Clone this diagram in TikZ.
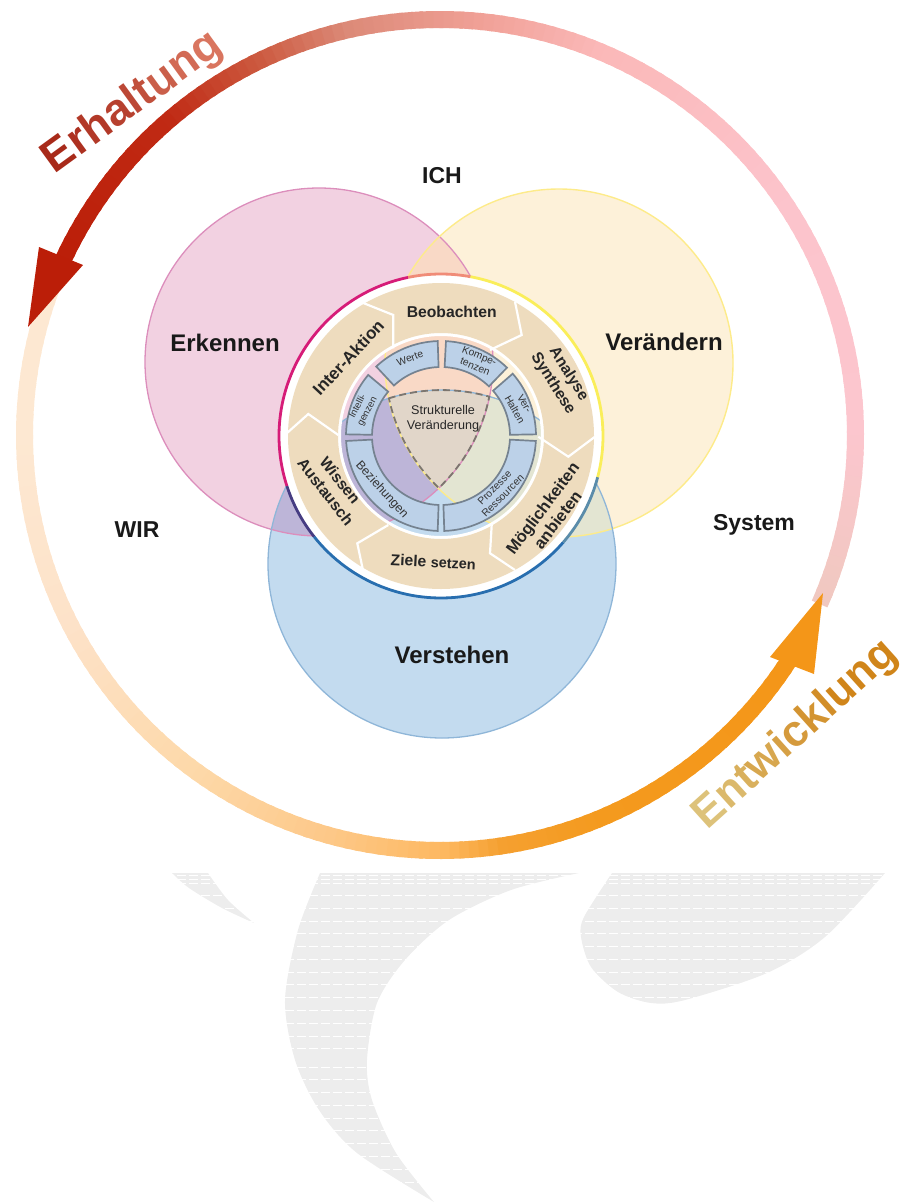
\documentclass[tikz,border=0pt]{standalone}
\usepackage{fontspec}
\setmainfont{Liberation Sans}
\definecolor{pinkfill}{HTML}{F2D1E1}
\definecolor{yellowfill}{HTML}{FDF1D9}
\definecolor{bluefill}{HTML}{C3DBEF}
\definecolor{pinkyellow}{HTML}{F9D9C6}
\definecolor{pinkblue}{HTML}{BDB5D8}
\definecolor{yellowblue}{HTML}{E3E5D2}
\definecolor{allthree}{HTML}{E1D6C9}
\definecolor{pinkedge}{HTML}{DC8EBC}
\definecolor{yellowedge}{HTML}{FDEB8A}
\definecolor{blueedge}{HTML}{8FB6D8}
\definecolor{sand}{HTML}{EEDCBE}
\definecolor{sectorblue}{HTML}{BCD1E8}
\definecolor{erhdark}{HTML}{A82A1A}
\definecolor{erhlight}{HTML}{D9755F}
\definecolor{entlight}{HTML}{DDC27A}
\definecolor{entdark}{HTML}{D0851A}
\definecolor{redhead}{HTML}{BB1E08}
\definecolor{orangehead}{HTML}{F49618}
\definecolor{erA}{HTML}{F0C8C0}
\definecolor{erB}{HTML}{FCC6CE}
\definecolor{erC}{HTML}{FCC4CC}
\definecolor{erD}{HTML}{FBB8B8}
\definecolor{erE}{HTML}{F0A096}
\definecolor{erF}{HTML}{DC8A78}
\definecolor{erG}{HTML}{CC5A40}
\definecolor{erH}{HTML}{C02A14}
\definecolor{enA}{HTML}{FDE8D2}
\definecolor{enB}{HTML}{FDE2C8}
\definecolor{enC}{HTML}{FDD8A8}
\definecolor{enD}{HTML}{FDC888}
\definecolor{enE}{HTML}{FDB860}
\definecolor{enF}{HTML}{F5A030}
\definecolor{enG}{HTML}{F49A1E}

\newcommand\ringpart[4]{%
  \pgfmathtruncatemacro\steps{abs(#2-#1)/1.5+1}
  \foreach \i in {1,...,\steps}{
    \pgfmathsetmacro\pct{100*(\i-1)/\steps}
    \pgfmathsetmacro\aA{#1+(#2-#1)*(\i-1)/\steps}
    \pgfmathsetmacro\aB{#1+(#2-#1)*(\i+.4)/\steps}
    \draw[ringline, color=#4!\pct!#3] (-\aA:415.5) arc (-\aA:-\aB:415.5);
  }}
\newcommand\sectorpart[2]{\draw[sectorbox] (-#1:95) arc (-#1:-#2:95) -- (-#2:69) arc (-#2:-#1:69) -- cycle;}

\begin{document}
\begin{tikzpicture}[x=1pt, y=-1pt]
  \tikzstyle{ringline} = [line width=17pt]
  \tikzstyle{sectorbox} = [draw=black!38!sectorblue, fill=sectorblue, line width=1.7pt]
  \tikzstyle{chevron} = [draw=white, line width=2.2pt]
  \tikzstyle{rimline} = [line width=2.8pt]
  \tikzstyle{bigtext} = [font=\bfseries\fontsize{24}{26}\selectfont, text=black!90]
  \tikzstyle{sidetext} = [font=\bfseries\fontsize{23}{26}\selectfont, text=black!90]
  \tikzstyle{ringtext} = [font=\bfseries\fontsize{15.7}{18.5}\selectfont, text=black!85, align=center]
  \tikzstyle{sectortext} = [font=\fontsize{10.3}{11.5}\selectfont, text=black!80, align=center]

\useasboundingbox (0,0) rectangle (905,1202);

% background mark
\fill[black!7] plot[smooth] coordinates {(172,873) (189,888) (222,908) (254,923)} -- plot[smooth] coordinates {(254,923) (228,900) (208,873)} -- cycle;
\fill[black!7] plot[smooth] coordinates {(320,873) (298,930) (285,1000) (295,1060) (319,1110) (357,1153) (434,1202)}
   -- plot[smooth] coordinates {(434,1202) (396,1153) (372,1100) (367,1060) (377,1003) (405,960) (449,920) (511,890) (579,873)} -- cycle;
\fill[black!7] plot[smooth] coordinates {(612,873) (584,917) (581,937) (591,967) (618,992) (651,1003) (685,1000) (767,973) (825,937) (885,873)} -- cycle;
\foreach \yy in {875,879,883,895,908,921,933,946,959,972,984,997,1010,1023,1036,1048,1067,1079,1092,1105,1118,1130,1143,1156,1169,1182}
  \draw[white, line width=.5pt, dash pattern=on 9pt off 3pt] (165,\yy) -- (890,\yy);

% outer ring
\begin{scope}[shift={(440,435)}]
\ringpart{158}{180}{enA}{enA}
\ringpart{180}{207}{enA}{enB}
\ringpart{207}{234}{enB}{enC}
\ringpart{234}{254}{enC}{enD}
\ringpart{254}{270}{enD}{enE}
\ringpart{270}{278}{enE}{enF}
\ringpart{278}{292}{enF}{enG}
\ringpart{292}{327}{enG}{orangehead}
\ringpart{-24}{0}{erA}{erB}
\ringpart{0}{33}{erB}{erC}
\ringpart{33}{67}{erC}{erD}
\ringpart{67}{84}{erD}{erE}
\ringpart{84}{102}{erE}{erF}
\ringpart{102}{115}{erF}{erG}
\ringpart{115}{130}{erG}{erH}
\ringpart{130}{155}{erH}{redhead}
\end{scope}
\coordinate (redtip) at (28,327);
\coordinate (redleft) at (39,247);
\coordinate (redright) at (83,265);
\coordinate (orangetip) at (823,593);
\coordinate (orangeleft) at (770,657);
\coordinate (orangeright) at (814,674);
\fill[redhead] (redtip) -- (redleft) -- (redright) -- cycle;
\fill[orangehead] (orangetip) -- (orangeleft) -- (orangeright) -- cycle;

\node[rotate=36, font=\bfseries\fontsize{45}{46}\selectfont] (erhaltung) at (133,103) {\textcolor{erhdark}{E}\textcolor{erhdark!90!erhlight}{r}\textcolor{erhdark!80!erhlight}{h}\textcolor{erhdark!70!erhlight}{a}\textcolor{erhdark!60!erhlight}{l}\textcolor{erhdark!50!erhlight}{t}\textcolor{erhdark!30!erhlight}{u}\textcolor{erhdark!15!erhlight}{n}\textcolor{erhlight}{g}};
\node[rotate=42, font=\bfseries\fontsize{44}{46}\selectfont] (entwicklung) at (796,735) {\textcolor{entlight}{E}\textcolor{entdark!15!entlight}{n}\textcolor{entdark!30!entlight}{t}\textcolor{entdark!45!entlight}{w}\textcolor{entdark!55!entlight}{i}\textcolor{entdark!65!entlight}{c}\textcolor{entdark!75!entlight}{k}\textcolor{entdark!85!entlight}{l}\textcolor{entdark}{u}\textcolor{entdark}{n}\textcolor{entdark}{g}};

% three circles
\coordinate (pinkc) at (319,362);
\coordinate (yellowc) at (559,363);
\coordinate (bluec) at (442,564);
\fill[pinkfill] (pinkc) circle (174);
\fill[yellowfill] (yellowc) circle (174);
\fill[bluefill] (bluec) circle (174);
\begin{scope}
  \clip (yellowc) circle (174);
  \fill[yellowblue] (bluec) circle (174);
\end{scope}
\begin{scope}
  \clip (pinkc) circle (174);
  \fill[pinkyellow] (yellowc) circle (174);
  \fill[pinkblue] (bluec) circle (174);
  \clip (yellowc) circle (174);
  \fill[allthree] (bluec) circle (174);
\end{scope}
\draw[pinkedge, line width=1.3pt] (pinkc) circle (174);
\draw[yellowedge, line width=1.4pt] (yellowc) circle (174);
\draw[blueedge, line width=1.3pt] (bluec) circle (174);

% middle disc
\begin{scope}[shift={(441,436)}]
\fill[white, even odd rule] (0,0) circle (161) (0,0) circle (100);
\fill[sand, even odd rule] (0,0) circle (153) (0,0) circle (103);
\foreach \aS/\aE/\rimcol in {101.7/198/{rgb,255:red,214;green,28;blue,120}, 198/218.5/{rgb,255:red,70;green,60;blue,130}, 218.5/319/{rgb,255:red,40;green,110;blue,175}, 319/345.3/{rgb,255:red,90;green,140;blue,170}, -14.7/79.6/{rgb,255:red,250;green,238;blue,90}, 79.6/101.7/{rgb,255:red,240;green,140;blue,120}}
  \draw[rimline, color=\rimcol] (-\aS:162) arc (-\aS:-\aE:162);
\sectorpart{92}{133}
\sectorpart{46}{87}
\sectorpart{1}{41}
\sectorpart{140}{179}
\sectorpart{183}{268}
\sectorpart{272}{357}
\end{scope}

\draw[chevron] (360,301.7) -- (393.3,315) -- (393.3,348.3);
\draw[chevron] (515,301.7) -- (521.7,335) -- (490,350);
\draw[chevron] (595,436.7) -- (568.3,456.7) -- (538.3,436.7);
\draw[chevron] (515,570) -- (490,553.3) -- (491.7,525);
\draw[chevron] (363.3,571.7) -- (357.3,543.3) -- (388.3,525);
\draw[chevron] (286.7,433.3) -- (308.3,414) -- (338.3,435);

\draw[draw=black!45!allthree, line width=1.8pt, dash pattern=on 7pt off 4pt] (388.7,398.4) arc (-107.8:-74.2:174) arc (11.5:46.4:174) arc (-226.2:-191.7:174);

\node[sidetext] (ich) at (442,176) {ICH};
\node[sidetext] (wir) at (137,530) {WIR};
\node[sidetext] (system) at (754,525) {System};
\node[bigtext] (erkennen) at (225,343) {Erkennen};
\node[bigtext] (veraendern) at (664,342) {Verändern};
\node[bigtext] (verstehen) at (452,655) {Verstehen};

\node[ringtext] (beobachten) at (451.7,311.7) {Beobachten};
\node[ringtext, rotate=47, font=\bfseries\fontsize{17}{18}\selectfont] (interaktion) at (348.3,357.3) {Inter-Aktion};
\node[ringtext, rotate=-58] (analyse) at (560.7,378.7) {Analyse\\Synthese};
\node[ringtext, rotate=-52] (wissen) at (333,486) {Wissen\\Austausch};
\node[ringtext, rotate=53, font=\bfseries\fontsize{16.5}{19}\selectfont] (moeglich) at (550,514) {Möglichkeiten\\anbieten};
\node[ringtext, rotate=-3] (ziele) at (433.3,561.7) {Ziele {\fontsize{14.5}{17}\selectfont setzen}};

\node[sectortext] (werte) at (410,358.3) [rotate=20] {Werte};
\node[sectortext] (kompetenzen) at (477.3,361) [rotate=-22] {Kompe-\\tenzen};
\node[sectortext] (verhalten) at (519.7,406.7) [rotate=-60] {Ver-\\Halten};
\node[sectortext, font=\fontsize{9.6}{11}\selectfont] (intelligenzen) at (362.7,409) [rotate=62] {Intelli-\\genzen};
\node[sectortext, font=\fontsize{12.3}{13}\selectfont] (beziehungen) at (381.7,490) [rotate=-48] {Beziehungen};
\node[sectortext] (prozesse) at (498.7,491.7) [rotate=45] {Prozesse\\Ressourcen};
\node[font=\fontsize{12.6}{15}\selectfont, align=center, text=black!85] (struktur) at (443,419) {Strukturelle\\Veränderung};
\end{tikzpicture}
\end{document}
